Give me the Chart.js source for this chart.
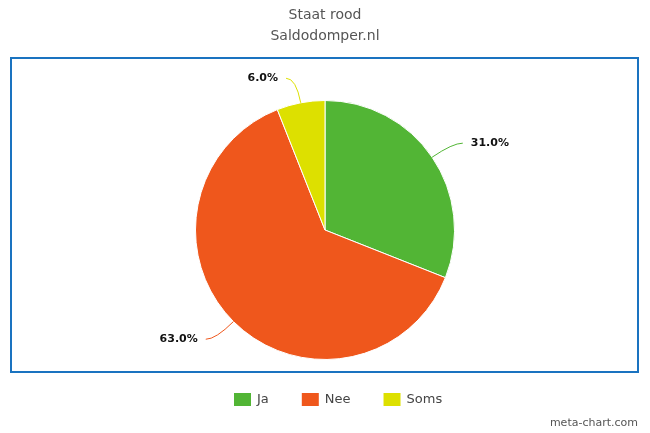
<!DOCTYPE html>
<html><head><meta charset="utf-8">
<script src="https://cdn.jsdelivr.net/npm/chart.js@4/dist/chart.umd.min.js"></script>
<style>body{margin:0;background:#fff}#w{width:650px;height:433px}</style>
</head><body><div id="w"><canvas id="c"></canvas></div>
<script>
const categories = ["Ja", "Nee", "Soms"];
const values = [31.0, 63.0, 6.0];
const colors = ["#52b535", "#ef571c", "#dde000"];
const title = "Staat rood";
const subtitle = "Saldodomper.nl";

const deco = {
  id: 'deco',
  beforeDraw(ch) {
    const c = ch.ctx;
    c.save();
    c.strokeStyle = '#1a73c0'; c.lineWidth = 2;
    c.strokeRect(11, 58, 627, 314);
    c.fillStyle = '#555'; c.textAlign = 'center'; c.textBaseline = 'middle';
    c.font = '14px "DejaVu Sans"';
    c.fillText(title, 325, 15);
    c.fillText(subtitle, 325, 36);
    // legend
    c.font = '13px "DejaVu Sans"'; c.textAlign = 'left';
    let x = 234;
    categories.forEach((t, i) => {
      c.fillStyle = colors[i]; c.fillRect(x, 393, 17, 13);
      c.fillStyle = '#444'; c.fillText(t, x + 23, 400);
      x += 23 + c.measureText(t).width + 33;
    });
    c.font = '11px "DejaVu Sans"'; c.textAlign = 'right'; c.fillStyle = '#555';
    c.fillText('meta-chart.com', 638, 423);
    c.restore();
  },
  afterDraw(ch) {
    const c = ch.ctx;
    const meta = ch.getDatasetMeta(0);
    c.save();
    meta.data.forEach((a, i) => {
      const mid = (a.startAngle + a.endAngle) / 2;
      const r = a.outerRadius;
      const x0 = a.x + Math.cos(mid) * r, y0 = a.y + Math.sin(mid) * r;
      const x1 = a.x + Math.cos(mid) * (r + 25), y1 = a.y + Math.sin(mid) * (r + 25);
      const right = Math.cos(mid) >= 0;
      const x2 = x1 + (right ? 10 : -10);
      c.strokeStyle = colors[i]; c.lineWidth = 1;
      c.beginPath(); c.moveTo(x0, y0); c.quadraticCurveTo(x1, y1, x2, y1); c.stroke();
      c.fillStyle = '#111'; c.font = 'bold 11px "DejaVu Sans"';
      c.textBaseline = 'middle'; c.textAlign = right ? 'left' : 'right';
      c.fillText(values[i].toFixed(1) + '%', x2 + (right ? 8 : -8), y1);
    });
    c.restore();
  }
};

new Chart(document.getElementById('c'), {
  type: 'pie',
  data: { labels: categories, datasets: [{ data: values, backgroundColor: colors, borderColor: '#fff', borderWidth: 1 }] },
  options: {
    responsive: true, maintainAspectRatio: false, animation: false,
    layout: { padding: { top: 100, bottom: 73 } },
    plugins: { legend: { display: false }, tooltip: { enabled: false } }
  },
  plugins: [deco]
});
</script></body></html>
